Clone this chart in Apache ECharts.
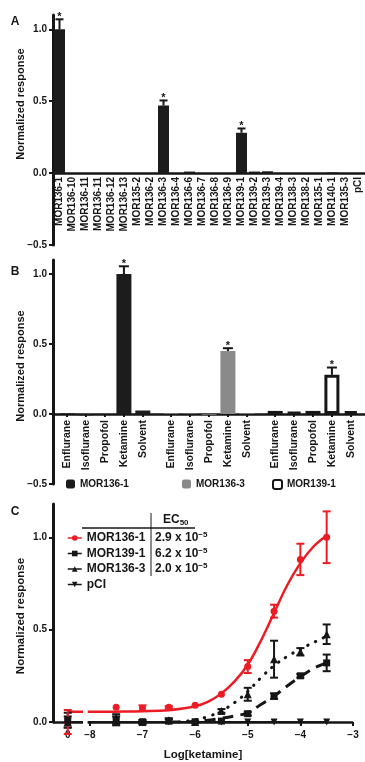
<!DOCTYPE html>
<html><head><meta charset="utf-8">
<script src="https://cdn.jsdelivr.net/npm/echarts@6/dist/echarts.min.js"></script>
<style>html,body{margin:0;padding:0;background:#fff}#c{width:365px;height:762px}</style>
</head><body><div id="c"></div>
<script>
// ---------- Panel A ----------
const catsA = ['MOR136-1','MOR136-10','MOR136-11','MOR136-11','MOR136-12','MOR136-13','MOR135-2','MOR136-2','MOR136-3','MOR136-4','MOR136-6','MOR136-7','MOR136-8','MOR136-9','MOR139-1','MOR139-2','MOR139-3','MOR139-4','MOR138-3','MOR138-2','MOR135-1','MOR140-1','MOR135-3','pCI'];
const valsA = [1.0,0,0,0,0,0,0,0,0.47,0,0.01,0,0,0,0.28,0.01,0.012,0,0,0,0,0.004,0,0];
const errA  = [0.07,0,0,0,0,0,0,0,0.035,0,0,0,0,0,0.03,0,0,0,0,0,0,0,0,0];
const sigA  = [1,0,0,0,0,0,0,0,1,0,0,0,0,0,1,0,0,0,0,0,0,0,0,0];
const ticksPos = [0,0.5,1.0];
const ticksNeg = [-0.5];

// ---------- Panel B ----------
const drugsB = ['Enflurane','Isoflurane','Propofol','Ketamine','Solvent'];
const groupsB = ['MOR136-1','MOR136-3','MOR139-1'];
const valsB = [
  [0.005,-0.01,-0.003,1.0,0.025],
  [0.005,0.003,-0.005,0.45,0.005],
  [0.022,0.014,0.022,0.28,0.02]
];
const errB = [
  [0,0,0,0.055,0],
  [0,0,0,0.02,0],
  [0,0,0,0.052,0]
];
const sigB = [0,0,0,1,0];

// ---------- Panel C ----------
const ctrlPosC = -8.42;           // where the "0" (no ketamine) control sits on the broken axis
const logKetC = [ctrlPosC,-7.5,-7,-6.5,-6,-5.5,-5,-4.5,-4,-3.5];
const c136_1    = [0.0,0.08,0.075,0.08,0.09,0.15,0.30,0.60,0.88,1.00];
const c136_1err = [0.065,0,0.015,0.006,0,0,0.035,0.035,0.085,0.14];
const c139_1    = [0.01,0.012,0.0,0.005,0.0,0.005,0.045,0.14,0.25,0.32];
const c139_1err = [0.04,0.03,0.01,0.01,0,0,0.01,0.015,0.01,0.045];
const c136_3    = [0.0,0.01,0.0,0.01,0.0,0.06,0.15,0.34,0.38,0.475];
const c136_3err = [0.03,0.02,0.01,0.01,0.005,0.01,0.035,0.1,0.02,0.053];
const cPCI      = [0,0,0,0,0,0,0,0,0,0];
// fitted curves (null = axis break)
const fit136_1 = [[-8.42,0.055],[-8.13,0.055],null,[-8.04,0.055],[-7.5,0.056],[-7,0.058],[-6.5,0.064],[-6,0.085],[-5.75,0.11],[-5.5,0.155],[-5.25,0.22],[-5,0.31],[-4.75,0.44],[-4.5,0.59],[-4.25,0.74],[-4,0.86],[-3.75,0.95],[-3.5,1.01]];
const fit139_1 = [[-6.5,0.0],[-6,0.003],[-5.75,0.01],[-5.5,0.02],[-5.25,0.033],[-5,0.05],[-4.75,0.095],[-4.5,0.14],[-4.25,0.195],[-4,0.245],[-3.75,0.29],[-3.5,0.32]];
const fit136_3 = [[-6.3,0.0],[-6,0.012],[-5.75,0.03],[-5.5,0.06],[-5.25,0.105],[-5,0.165],[-4.75,0.24],[-4.5,0.305],[-4.25,0.355],[-4,0.395],[-3.75,0.43],[-3.5,0.465]];
const fitPCI = [[-8.42,0],[-8.13,0],null,[-8.04,0],[-3.5,0]];
const axisBreakC = [-8.13,-8.04];
const xTicksC = [ctrlPosC,-8,-7,-6,-5,-4,-3];
const yTicksC = [0,0.5,1.0];
const ec50 = ['2.9','6.2','2.0'];

const FONT = '"Liberation Sans", Arial, Helvetica, sans-serif';
const INK = '#161616';
const RED = '#ec1c24';
const fmt = v => (v < 0 ? '\u2212' : '') + Math.abs(v).toFixed(1);
const fmtInt = v => (v < 0 ? '\u2212' : '') + Math.abs(v);

function errItem(color, cap) {
  return function (params, api) {
    const x = api.value(0), y = api.value(1), up = api.value(2), dn = api.value(3), star = api.value(4);
    const p = api.coord([x, y]);
    const st = {stroke: color, lineWidth: 2};
    const kids = [];
    let top = p;
    if (up > 0) {
      const q = api.coord([x, y + up]); top = q;
      kids.push({type:'line', shape:{x1:p[0],y1:p[1],x2:q[0],y2:q[1]}, style:st});
      kids.push({type:'line', shape:{x1:q[0]-cap,y1:q[1],x2:q[0]+cap,y2:q[1]}, style:st});
    }
    if (dn > 0) {
      const q = api.coord([x, y - dn]);
      kids.push({type:'line', shape:{x1:p[0],y1:p[1],x2:q[0],y2:q[1]}, style:st});
      kids.push({type:'line', shape:{x1:q[0]-cap,y1:q[1],x2:q[0]+cap,y2:q[1]}, style:st});
    }
    if (star) {
      kids.push({type:'text', x: top[0], y: top[1] + 3, style:{text:'*', align:'center', verticalAlign:'bottom', font:'bold 11px ' + FONT, fill: INK}});
    }
    return {type:'group', children:kids};
  };
}

// build panel B slots: blank slot, 5 drugs every other slot, 3-slot gap between groups
const NSLOT = 33;
const slotOf = (g, d) => 1 + g * 11 + d * 2;
const catsB = new Array(NSLOT).fill('');
drugsB.forEach((d, i) => groupsB.forEach((_, g) => { catsB[slotOf(g, i)] = d; }));
const slotData = g => { const a = new Array(NSLOT).fill(null); valsB[g].forEach((v, i) => { a[slotOf(g, i)] = v; }); return a; };
const errDataB = [];
groupsB.forEach((_, g) => drugsB.forEach((_, i) => errDataB.push([slotOf(g, i), valsB[g][i], errB[g][i], 0, sigB[i] && errB[g][i] > 0 ? 1 : 0])));

const ptsC = (vals) => logKetC.map((x, i) => [x, vals[i]]);
const errPts = (vals, errs) => logKetC.map((x, i) => [x, vals[i], errs[i], errs[i], 0]);

const yAx = (grid, min, max, ticks) => ({
  gridIndex: grid, type: 'value', min, max,
  splitLine: {show: false},
  axisLine: {show: true, lineStyle: {color: INK, width: 3}},
  axisTick: {show: true, length: 4, lineStyle: {color: INK, width: 2}, customValues: ticks},
  axisLabel: {customValues: ticks, formatter: fmt, fontSize: 10, fontWeight: 'bold', color: INK, fontFamily: FONT, margin: 6}
});

const bStyles = [
  {color: '#1c1c1c'},
  {color: '#8a8a8a'},
  {color: '#ffffff', borderColor: '#161616', borderWidth: 3}
];
const legTxt = {fontSize: 10, fontWeight: 'bold', color: INK, fontFamily: FONT};

const chart = echarts.init(document.getElementById('c'), null, {renderer: 'canvas'});
chart.setOption({
  animation: false,
  backgroundColor: '#fff',
  textStyle: {fontFamily: FONT},
  grid: [
    {left: 53, top: 15, width: 312, height: 158},
    {left: 53, top: 173, width: 312, height: 72},
    {left: 53, top: 260, width: 313, height: 154},
    {left: 53, top: 414, width: 313, height: 70},
    {left: 53, top: 504, width: 300, height: 223}
  ],
  xAxis: [
    {gridIndex: 0, type: 'category', data: catsA,
     axisLine: {lineStyle: {color: INK, width: 2.5}}, axisTick: {show: false},
     axisLabel: {rotate: 90, interval: 0, fontSize: 10, fontWeight: 'bold', color: INK, fontFamily: FONT, margin: 4}},
    {gridIndex: 1, type: 'category', data: catsA, show: false},
    {gridIndex: 2, type: 'category', data: catsB,
     axisLine: {lineStyle: {color: INK, width: 2.5}},
     axisTick: {show: true, alignWithLabel: true, length: 3, lineStyle: {color: INK, width: 2}, interval: (i, v) => v !== ''},
     axisLabel: {rotate: 90, interval: 0, fontSize: 10.5, fontWeight: 'bold', color: INK, fontFamily: FONT, margin: 6}},
    {gridIndex: 3, type: 'category', data: catsB, show: false},
    {gridIndex: 4, type: 'value', min: -8.7, max: -3,
     splitLine: {show: false},
     axisLine: {show: false},
     axisTick: {show: true, length: 4, lineStyle: {color: INK, width: 2}, customValues: xTicksC},
     axisLabel: {customValues: xTicksC, formatter: v => (v === ctrlPosC ? '0' : fmtInt(v)), fontSize: 10, fontWeight: 'bold', color: INK, fontFamily: FONT, margin: 8},
     name: 'Log[ketamine]', nameLocation: 'middle', nameGap: 27,
     nameTextStyle: {fontSize: 11.5, fontWeight: 'bold', color: INK, fontFamily: FONT}}
  ],
  yAxis: [
    yAx(0, 0, 1.1, ticksPos),
    yAx(1, -0.5, 0, ticksNeg),
    yAx(2, 0, 1.1, ticksPos),
    yAx(3, -0.5, 0, ticksNeg),
    yAx(4, 0, 1.18, yTicksC)
  ],
  legend: [
    {data: [groupsB[0]], left: 66, top: 479, padding: 0, itemWidth: 9, itemHeight: 9, selectedMode: false, textStyle: legTxt},
    {data: [groupsB[1]], left: 182, top: 479, padding: 0, itemWidth: 9, itemHeight: 9, selectedMode: false, textStyle: legTxt},
    {data: [groupsB[2]], left: 272, top: 479, padding: 0, itemWidth: 9, itemHeight: 9, selectedMode: false, textStyle: legTxt},
    {data: ['C:MOR136-1','C:MOR139-1','C:MOR136-3','C:pCI'], orient: 'vertical', left: 67, top: 532, padding: 0,
     itemWidth: 14, itemHeight: 7, itemGap: 3.5, selectedMode: false,
     lineStyle: {width: 1.5},
     formatter: n => n.replace(/^C:/, ''),
     textStyle: {fontSize: 12, fontWeight: 'bold', color: INK, fontFamily: FONT}}
  ],
  graphic: [
    {type: 'text', x: 15, y: 22, style: {text: 'A', align: 'center', verticalAlign: 'middle', font: 'bold 12px ' + FONT, fill: INK}},
    {type: 'text', x: 15, y: 272, style: {text: 'B', align: 'center', verticalAlign: 'middle', font: 'bold 12px ' + FONT, fill: INK}},
    {type: 'text', x: 15, y: 512, style: {text: 'C', align: 'center', verticalAlign: 'middle', font: 'bold 12px ' + FONT, fill: INK}},
    {type: 'text', x: 21, y: 104, rotation: Math.PI / 2, style: {text: 'Normalized response', align: 'center', verticalAlign: 'middle', font: 'bold 11px ' + FONT, fill: INK}},
    {type: 'text', x: 21, y: 366, rotation: Math.PI / 2, style: {text: 'Normalized response', align: 'center', verticalAlign: 'middle', font: 'bold 11px ' + FONT, fill: INK}},
    {type: 'text', x: 21, y: 616, rotation: Math.PI / 2, style: {text: 'Normalized response', align: 'center', verticalAlign: 'middle', font: 'bold 11.5px ' + FONT, fill: INK}},
    // EC50 table
    {type: 'text', x: 163, y: 520, style: {text: 'EC{s|50}', align: 'left', verticalAlign: 'middle', font: 'bold 12px ' + FONT, fill: INK,
      rich: {s: {fontSize: 8, fontWeight: 'bold', fontFamily: FONT, fill: INK, verticalAlign: 'bottom', lineHeight: 14}}}},
    {type: 'line', shape: {x1: 82, y1: 528, x2: 195, y2: 528}, style: {stroke: INK, lineWidth: 1.5}},
    {type: 'line', shape: {x1: 151, y1: 513, x2: 151, y2: 576}, style: {stroke: INK, lineWidth: 1}},
    ...ec50.map((v, i) => ({type: 'text', x: 155, y: 538 + i * 15.5, style: {text: v + ' x 10{s|\u22125}', align: 'left', verticalAlign: 'middle', font: 'bold 12px ' + FONT, fill: INK,
      rich: {s: {fontSize: 8, fontWeight: 'bold', fontFamily: FONT, fill: INK, verticalAlign: 'top', lineHeight: 14}}}}))
  ],
  series: [
    // A
    {name: 'A', type: 'bar', xAxisIndex: 0, yAxisIndex: 0, data: valsA, barWidth: 11, clip: false, itemStyle: {color: '#1c1c1c'}},
    {type: 'custom', xAxisIndex: 0, yAxisIndex: 0, renderItem: errItem(INK, 4), encode: {x: 0, y: 1}, z: 5, clip: false,
     data: catsA.map((c, i) => [i, valsA[i], errA[i], 0, sigA[i]])},
    // B
    ...groupsB.map((g, gi) => ({name: g, type: 'bar', xAxisIndex: 2, yAxisIndex: 2, data: slotData(gi), barWidth: 15, barGap: '-100%', clip: false, itemStyle: bStyles[gi]})),
    {type: 'custom', xAxisIndex: 2, yAxisIndex: 2, renderItem: errItem(INK, 5), encode: {x: 0, y: 1}, z: 5, clip: false, data: errDataB},
    // C fitted curves
    {type: 'line', xAxisIndex: 4, yAxisIndex: 4, data: fit136_1, smooth: 0.4, showSymbol: false, silent: true, lineStyle: {color: RED, width: 2.5}, z: 2},
    {type: 'line', xAxisIndex: 4, yAxisIndex: 4, data: fit139_1, smooth: 0.4, showSymbol: false, silent: true, lineStyle: {color: INK, width: 3, type: [11, 7]}, z: 2},
    {type: 'line', xAxisIndex: 4, yAxisIndex: 4, data: fit136_3, smooth: 0.4, showSymbol: false, silent: true, lineStyle: {color: INK, width: 3, type: [0.5, 8], cap: 'round'}, z: 2},
    {type: 'line', xAxisIndex: 4, yAxisIndex: 4, data: fitPCI, showSymbol: false, silent: true, lineStyle: {color: INK, width: 2}, z: 2,
     markLine: {silent: true, symbol: 'none', label: {show: false}, lineStyle: {color: INK, width: 2.5, type: 'solid'},
       data: [[{coord: [-8.7, 0]}, {coord: [axisBreakC[0], 0]}], [{coord: [axisBreakC[1], 0]}, {coord: [-3, 0]}]]}},
    // C error bars
    {type: 'custom', xAxisIndex: 4, yAxisIndex: 4, renderItem: errItem(INK, 4), encode: {x: 0, y: 1}, z: 4, clip: false,
     data: errPts(c139_1, c139_1err).concat(errPts(c136_3, c136_3err))},
    {type: 'custom', xAxisIndex: 4, yAxisIndex: 4, renderItem: errItem(RED, 4), encode: {x: 0, y: 1}, z: 5, clip: false,
     data: errPts(c136_1, c136_1err)},
    // C points
    {name: 'C:MOR136-1', type: 'line', xAxisIndex: 4, yAxisIndex: 4, data: ptsC(c136_1), symbol: 'circle', symbolSize: 7, showSymbol: true,
     lineStyle: {width: 0, color: RED}, itemStyle: {color: RED}, z: 6},
    {name: 'C:MOR139-1', type: 'line', xAxisIndex: 4, yAxisIndex: 4, data: ptsC(c139_1), symbol: 'rect', symbolSize: 7, showSymbol: true,
     lineStyle: {width: 0, color: INK}, itemStyle: {color: INK}, z: 6},
    {name: 'C:MOR136-3', type: 'line', xAxisIndex: 4, yAxisIndex: 4, data: ptsC(c136_3), symbol: 'triangle', symbolSize: 8, showSymbol: true,
     lineStyle: {width: 0, color: INK}, itemStyle: {color: INK}, z: 6},
    {name: 'C:pCI', type: 'line', xAxisIndex: 4, yAxisIndex: 4, data: ptsC(cPCI), symbol: 'triangle', symbolRotate: 180, symbolSize: 7, showSymbol: true,
     lineStyle: {width: 0, color: INK}, itemStyle: {color: INK}, z: 6}
  ]
});
</script></body></html>
